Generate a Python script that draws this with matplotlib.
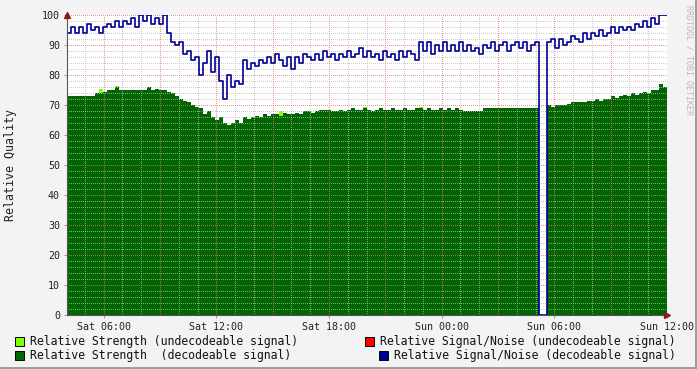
import numpy as np
import matplotlib
matplotlib.use("Agg")
import matplotlib.pyplot as plt
from matplotlib.patches import Rectangle

# ---------------------------
# data (hours since Sat 00:00, one value per ~12.8 min)
# ---------------------------
t_start = 4.05
t_end = 36.0

snr_decoded = [
    94, 96, 94, 96, 94, 97, 95, 96, 94, 96,
    97, 96, 98, 96, 98, 97, 99, 96, 100, 98,
    100, 97, 99, 97, 100, 94, 91, 90, 91, 87,
    88, 85, 86, 80, 84, 88, 81, 86, 78, 72,
    80, 76, 78, 77, 85, 82, 84, 83, 85, 84,
    86, 84, 87, 85, 83, 86, 82, 86, 84, 87,
    86, 85, 87, 85, 88, 86, 87, 85, 87, 86,
    88, 86, 87, 89, 86, 88, 86, 87, 85, 88,
    86, 87, 85, 88, 86, 88, 87, 85, 91, 88,
    91, 87, 90, 88, 91, 88, 90, 88, 91, 88,
    90, 88, 89, 87, 90, 89, 91, 88, 90, 91,
    88, 90, 91, 89, 91, 88, 90, 91, 0, 0,
    91, 92, 89, 92, 90, 91, 93, 92, 91, 94,
    92, 94, 93, 95, 93, 94, 96, 94, 96, 95,
    96, 95, 97, 96, 98, 96, 99, 97, 100, 100,
]

strength_decoded = [
    73, 73, 73, 73, 73, 73, 73, 74, 74, 74.5,
    75, 75, 76, 75, 75, 75, 75, 75, 75, 75,
    76, 75, 75.5, 75, 75, 74.5, 74, 73, 72, 71.5,
    71, 70, 69.5, 69, 67, 68, 66, 65, 66, 64,
    63.5, 64, 65, 64, 66, 65.5, 66, 66.5, 66, 67,
    66.5, 67, 67, 66.5, 67.5, 67, 67, 67.5, 67, 68,
    68, 67.5, 68, 68.5, 68.5, 68.5, 68, 68, 68.5, 68,
    68.5, 69, 68.5, 68.5, 69, 68.5, 68, 68.5, 69, 68.5,
    68.5, 69, 68.5, 68.5, 69, 68.5, 68.5, 69, 69, 68.5,
    69, 68.5, 68.5, 69, 68.5, 69, 68.5, 69, 68.5, 68,
    68, 68, 68, 68, 69, 69, 69, 69, 69, 69,
    69, 69, 69, 69, 69, 69, 69, 69, 0, 0,
    70, 69.5, 70, 70, 70, 70.5, 71, 71, 71, 71,
    71.5, 71.5, 72, 71.5, 72, 72, 73, 72.5, 73, 73.5,
    73, 74, 73.5, 74, 74.5, 74, 75, 75, 77, 76,
]

# undecodeable strength only peeks out in a few places
strength_undec = [0] * 150
for i, v in [(8, 75.5), (12, 76.5), (53, 68), (88, 69.5), (74, 69.5)]:
    strength_undec[i] = v

x_ticks = [6, 12, 18, 24, 30, 36]
x_labels = ["Sat 06:00", "Sat 12:00", "Sat 18:00", "Sun 00:00", "Sun 06:00", "Sun 12:00"]

# ---------------------------
# plot
# ---------------------------
W, H = 697, 369
fig = plt.figure(figsize=(W / 100, H / 100), dpi=100, facecolor="#F3F3F3")
ax = fig.add_axes([67 / W, (H - 315) / H, 600 / W, 300 / H])
ax.set_facecolor("white")

n = len(snr_decoded)
t = np.linspace(t_start, t_end, n + 1)
snr = np.append(snr_decoded, snr_decoded[-1])
strg = np.append(strength_decoded, strength_decoded[-1])
undec = np.append(strength_undec, strength_undec[-1])

ax.fill_between(t, 0, undec, step="post", color="#80FF00", lw=0, zorder=1)
ax.fill_between(t, 0, strg, step="post", color="#006600", lw=0, zorder=2)
ax.step(t, snr, where="post", color="#000096", lw=1.2, zorder=5)

ax.set_xlim(t_start, t_end)
ax.set_ylim(0, 100)

# grid: minor grey every 1h / 2 units, major red every 3h / 10 units
dots = (0, (1, 2))
grid_kw = dict(lw=0.72, ls=dots, antialiased=False, alpha=0.75)
for h in np.arange(5, 36, 1):
    if h % 3:
        ax.axvline(h, color="#BBBBBB", zorder=3, **grid_kw)
for v in range(2, 100, 2):
    if v % 10:
        ax.axhline(v, color="#BBBBBB", zorder=3, **grid_kw)
for h in range(6, 37, 3):
    ax.axvline(h, color="#E07070", zorder=4, **grid_kw)
for v in range(10, 101, 10):
    ax.axhline(v, color="#E07070", zorder=4, **grid_kw)

for s in ["top", "right"]:
    ax.spines[s].set_visible(False)
for s in ["left", "bottom"]:
    ax.spines[s].set_color("#555555")
    ax.spines[s].set_linewidth(0.8)
    ax.spines[s].set_zorder(6)

ax.set_yticks(range(0, 101, 10))
ax.set_xticks(x_ticks)
ax.set_xticklabels(x_labels)
ax.tick_params(axis="both", labelsize=7.2, length=2, width=0.7, color="#999999",
               pad=3)
for lab in ax.get_xticklabels() + ax.get_yticklabels():
    lab.set_family("DejaVu Sans Mono")
    lab.set_color("#222222")

# arrow heads at ends of axes
ax.plot([0], [1.0], marker="^", ms=4, color="#8B1A1A", transform=ax.transAxes,
        clip_on=False, zorder=7)
ax.plot([1.0], [0], marker=">", ms=4, color="#8B1A1A", transform=ax.transAxes,
        clip_on=False, zorder=7)

fig.text(11 / W, 1 - 165 / H, "Relative Quality", rotation=90, ha="center",
         va="center", fontsize=8.4, family="DejaVu Sans Mono", color="#222222")
fig.text(689 / W, 1 - 5 / H, "RRDTOOL / TOBI OETIKER", rotation=-90, ha="center",
         va="top", fontsize=6, family="DejaVu Sans Mono", color="#BBBBBB")

# legend
legend = [
    (15, 341, "#80FF00", 30, "Relative Strength (undecodeable signal)"),
    (15, 355, "#006600", 30, "Relative Strength  (decodeable signal)"),
    (365, 341, "#FF0000", 380, "Relative Signal/Noise (undecodeable signal)"),
    (379, 355, "#000099", 394, "Relative Signal/Noise (decodeable signal)"),
]
for bx, by, col, tx, txt in legend:
    fig.patches.append(Rectangle((bx / W, 1 - (by + 4.5) / H), 9 / W, 9 / H,
                                 transform=fig.transFigure, facecolor=col,
                                 edgecolor="black", lw=0.7))
    fig.text(tx / W, 1 - by / H, txt, ha="left", va="center", fontsize=8.3,
             family="DejaVu Sans Mono", color="#111111")

# frame shading like rrdtool
fig.patches.append(Rectangle((0, 0), 1, 2 / H, transform=fig.transFigure,
                             facecolor="#9E9E9E", lw=0))
fig.patches.append(Rectangle((1 - 2 / W, 0), 2 / W, 1, transform=fig.transFigure,
                             facecolor="#9E9E9E", lw=0))

fig.savefig("out.png", dpi=100, facecolor=fig.get_facecolor())
